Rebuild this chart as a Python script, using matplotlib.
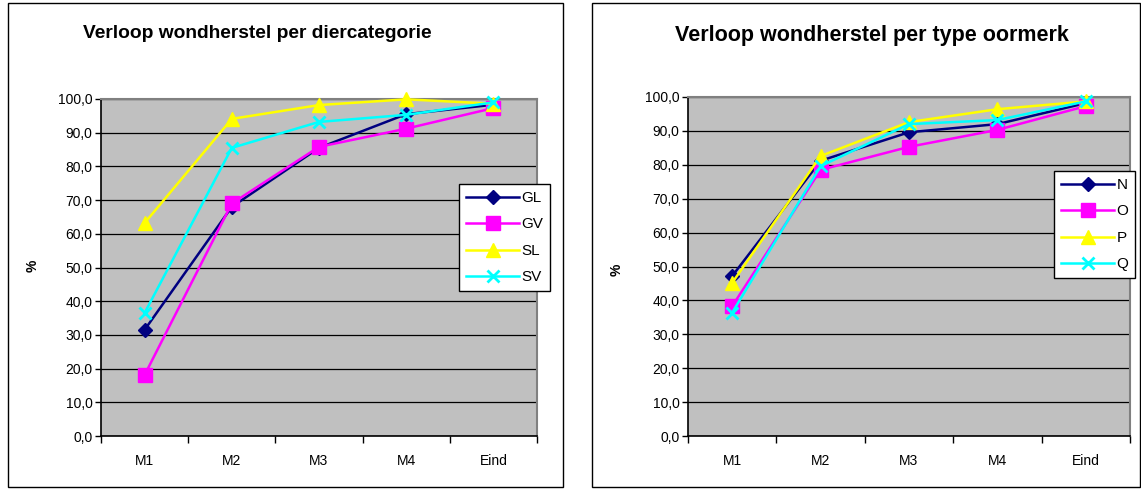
import matplotlib
matplotlib.use("Agg")
import matplotlib.pyplot as plt
from matplotlib.patches import Rectangle
from matplotlib.ticker import FixedLocator, FuncFormatter

plt.rcParams['font.family'] = ['Liberation Sans', 'DejaVu Sans']

categories = ["M1", "M2", "M3", "M4", "Eind"]

# Left chart: per diercategorie
left_title = "Verloop wondherstel per diercategorie"
left_names = ["GL", "GV", "SL", "SV"]
GL = [31.5, 68.0, 85.5, 95.5, 98.3]
GV = [18.1, 69.0, 85.8, 91.2, 97.3]
SL = [63.2, 94.1, 98.2, 99.9, 98.6]
SV = [36.5, 85.5, 93.2, 95.3, 99.0]

# Right chart: per type oormerk
right_title = "Verloop wondherstel per type oormerk"
right_names = ["N", "O", "P", "Q"]
N = [47.2, 81.2, 89.6, 92.0, 98.2]
O = [38.3, 78.5, 85.3, 90.3, 97.3]
P = [45.2, 82.6, 92.6, 96.4, 98.7]
Q = [36.4, 79.6, 92.0, 93.2, 98.7]

y_ticks = [0, 10, 20, 30, 40, 50, 60, 70, 80, 90, 100]

colors = ["#000080", "#FF00FF", "#FFFF00", "#00FFFF"]
markers = ["D", "s", "^", "x"]
msizes = [7.5, 9.5, 9.5, 9]

W, H = 1141, 491
fig = plt.figure(figsize=(W / 100, H / 100), dpi=100)
fig.patch.set_facecolor("white")


def fx(px):
    return px / W


def fy(py):
    return 1 - py / H


def panel(x0, y0, x1, y1):
    fig.patches.append(Rectangle((fx(x0), fy(y1)), fx(x1) - fx(x0), fy(y0) - fy(y1),
                                 transform=fig.transFigure, fill=False,
                                 edgecolor="black", linewidth=1.0, zorder=0))


def make_chart(ax_box, title, title_xy, title_size, pct_xy, names, series, legend_xy):
    x0, y0, x1, y1 = ax_box
    ax = fig.add_axes([fx(x0), fy(y1), fx(x1) - fx(x0), fy(y0) - fy(y1)])
    ax.set_facecolor("#C0C0C0")
    xs = list(range(len(categories)))
    for i, (name, vals) in enumerate(zip(names, series)):
        mew = 2.0 if markers[i] == "x" else 1.0
        ax.plot(xs, vals, color=colors[i], linewidth=1.8, marker=markers[i],
                markersize=msizes[i], markeredgewidth=mew, label=name,
                zorder=3 + i, clip_on=False)
    ax.set_xlim(-0.5, len(categories) - 0.5)
    ax.set_ylim(0, 100)
    ax.yaxis.set_major_locator(FixedLocator(y_ticks))
    ax.yaxis.set_major_formatter(FuncFormatter(lambda v, p: f"{v:.1f}".replace(".", ",")))
    ax.grid(axis="y", color="black", linewidth=0.9, zorder=1)
    ax.set_axisbelow(True)
    ax.xaxis.set_major_locator(FixedLocator([i - 0.5 for i in range(len(categories) + 1)]))
    ax.xaxis.set_major_formatter(FuncFormatter(lambda v, p: ""))
    ax.xaxis.set_minor_locator(FixedLocator(xs))
    ax.set_xticklabels(categories, minor=True)
    ax.tick_params(axis="x", which="minor", length=0, pad=13, labelsize=10)
    ax.tick_params(axis="x", which="major", length=5, width=1, direction="out")
    ax.tick_params(axis="y", length=4, width=1, direction="out", pad=2, labelsize=10)
    for s in ["top", "right"]:
        ax.spines[s].set_color("#808080")
        ax.spines[s].set_linewidth(1.5)
    for s in ["left", "bottom"]:
        ax.spines[s].set_color("black")
        ax.spines[s].set_linewidth(1.2)
    fig.text(fx(title_xy[0]), fy(title_xy[1]), title, ha="center", va="center",
             fontsize=title_size, fontweight="bold")
    fig.text(fx(pct_xy[0]), fy(pct_xy[1]), "%", ha="center", va="center",
             fontsize=10, fontweight="bold", rotation=90)
    leg = ax.legend(loc="upper left", bbox_to_anchor=(fx(legend_xy[0]), fy(legend_xy[1])),
                    bbox_transform=fig.transFigure, frameon=True, fancybox=False,
                    edgecolor="black", framealpha=1, fontsize=11, handlelength=3.5,
                    handletextpad=0.15, labelspacing=0.82, borderpad=0.45,
                    borderaxespad=0)
    leg.get_frame().set_linewidth(1.0)
    leg.set_zorder(10)
    return ax


panel(8, 3, 563, 487)
panel(592, 3, 1140, 487)

make_chart((101, 99, 537, 436), left_title, (257, 33), 13.8, (33, 266), left_names,
           [GL, GV, SL, SV], (459, 184))
make_chart((688, 97, 1130, 436), right_title, (872, 36), 15.5, (617, 270), right_names,
           [N, O, P, Q], (1054, 171))

fig.savefig("out.png", dpi=100)
